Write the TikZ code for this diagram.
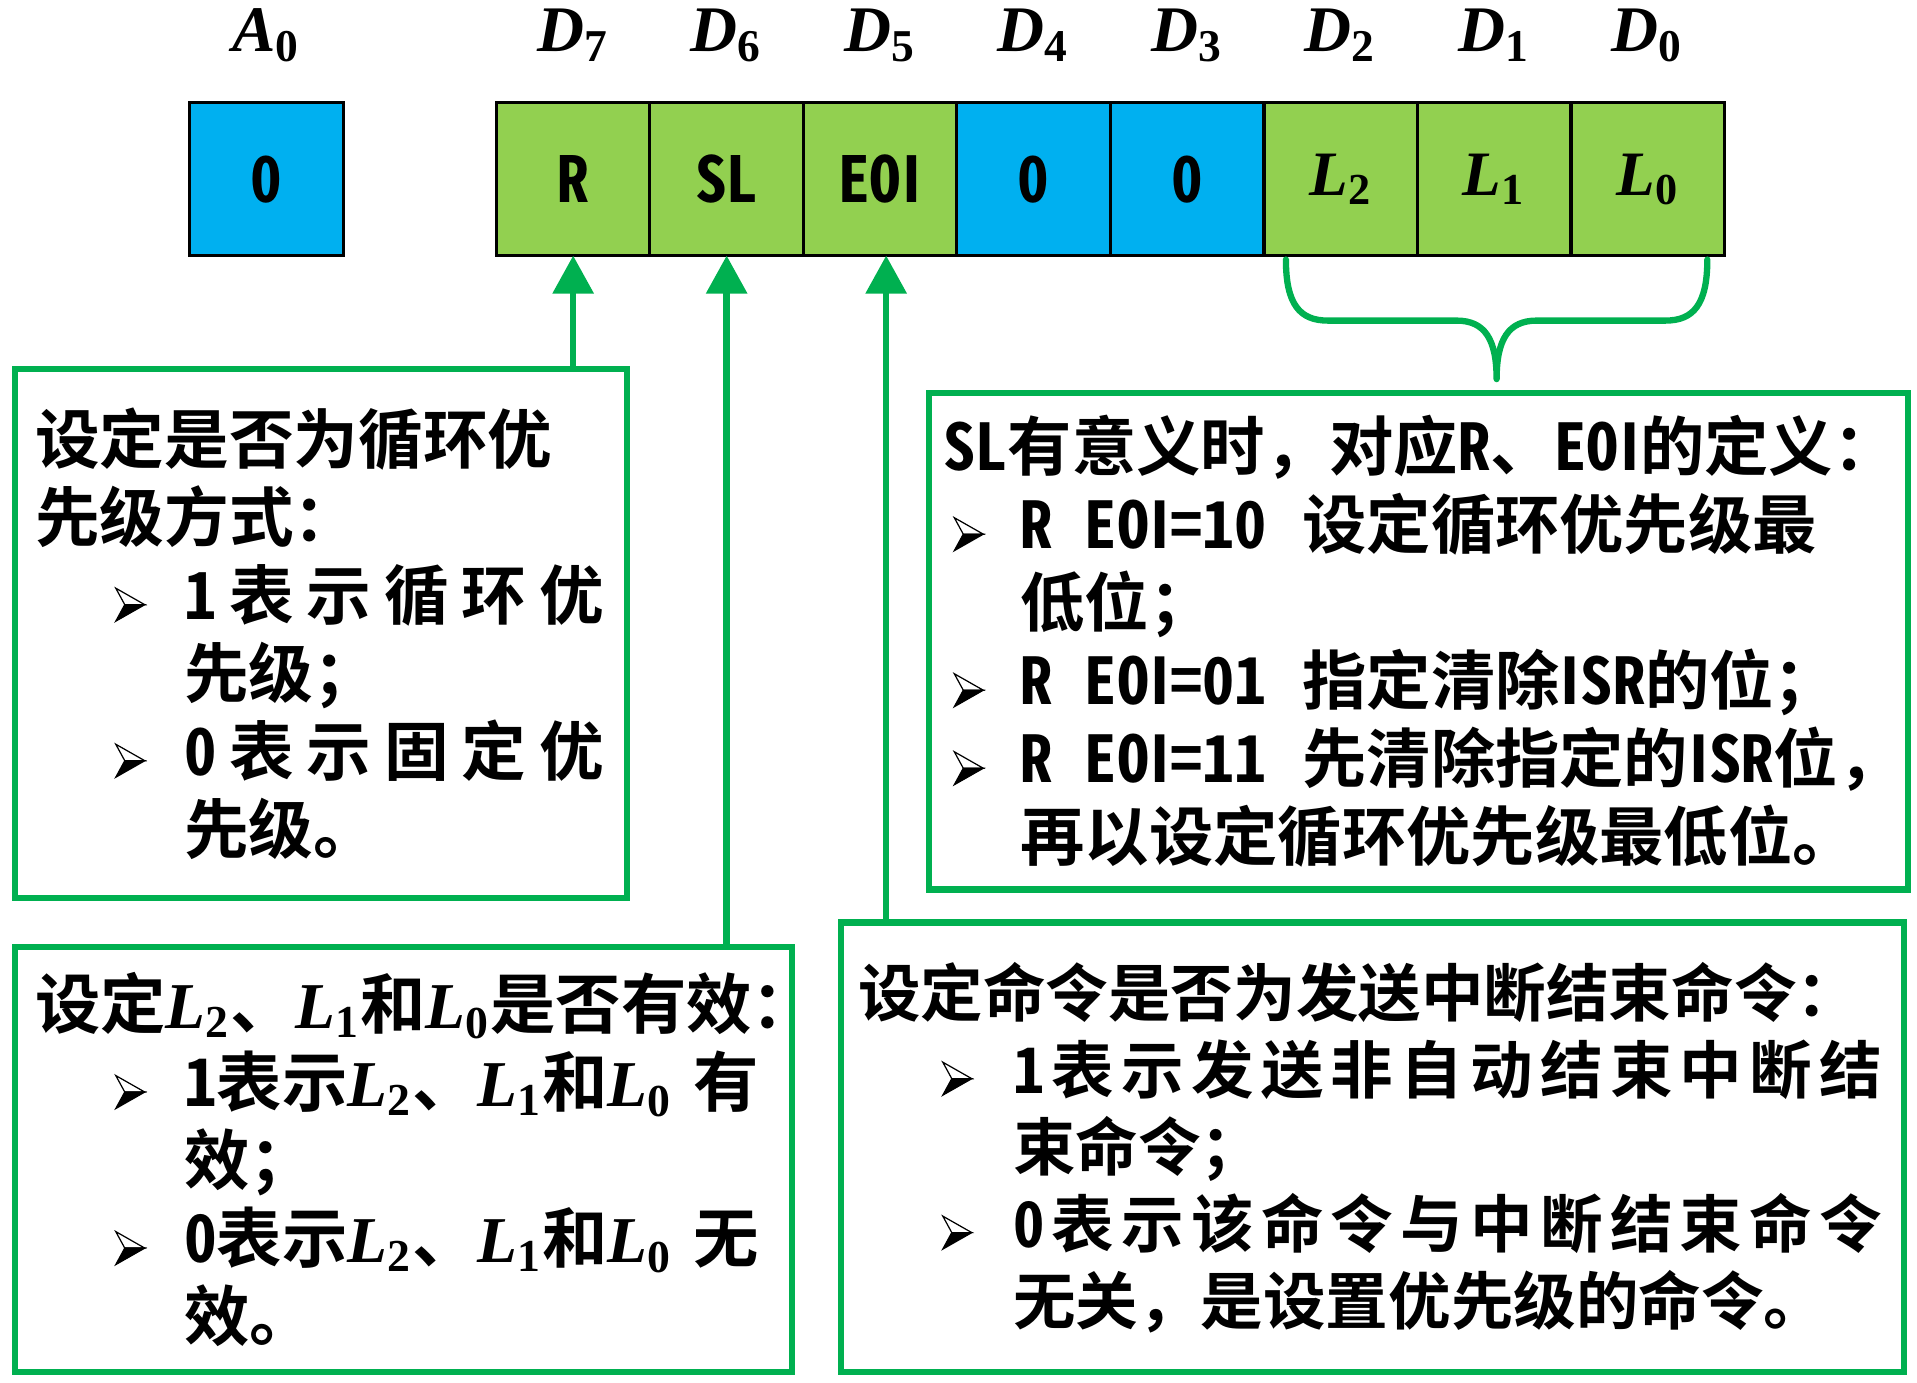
\documentclass[tikz,border=0pt]{standalone}
\usepackage[no-math]{fontspec}
\usetikzlibrary{arrows.meta, positioning}

\setmainfont{Noto Sans CJK SC}[BoldFont={Noto Sans CJK SC Bold}]
\newfontfamily\latfont{Noto Sans CJK SC}[BoldFont={Noto Sans CJK SC Bold}, RawFeature=+hwid]
\newfontfamily\symfont{Liberation Serif}

\definecolor{cellgreen}{HTML}{92D050}
\definecolor{cellblue}{HTML}{00B0F0}
\definecolor{linegreen}{HTML}{00B050}

\newcommand{\lat}[1]{{\latfont\bfseries #1}}
\newcommand{\barI}{{\rmfamily I}}
\newcommand{\sym}[2]{{\symfont\bfseries\itshape #1}\textsubscript{\symfont\bfseries #2}}
\newcommand{\cellfont}{\latfont\bfseries\fontsize{18}{20}\selectfont}
\newcommand{\bulletmark}{\tikz[baseline={(0,0.2mm)}, x=1mm, y=1mm, line width=0.35pt, line join=miter]{%
    \filldraw[draw=black, fill=white] (0,3.3) -- (2.9,1.65) -- (0.9,1.65) -- cycle;
    \filldraw[draw=black, fill=black] (0.9,1.65) -- (2.9,1.65) -- (0,0) -- cycle;}}
\newcommand{\bitem}[2]{\makebox[#2][l]{\hspace*{#1}\bulletmark}}
\def\sprnext#1{\ifx#1\relax\else\hfill#1\expandafter\sprnext\fi}
\newcommand{\spreadline}[3]{\makebox[#1][s]{\lat{#2}\sprnext#3\relax}}

\begin{document}
\begin{tikzpicture}[
        node distance=0pt,
        cell/.style={draw=black, line width=0.9pt, outer sep=0pt, minimum width=1.535cm, minimum height=1.53cm, inner sep=0pt, font=\cellfont},
        gcell/.style={cell, fill=cellgreen},
        bcell/.style={cell, fill=cellblue},
        bitlabel/.style={anchor=base, inner sep=0pt, font=\fontsize{18.5}{20}\selectfont},
        notebox/.style={draw=linegreen, line width=1.8pt, anchor=north west, align=left, inner ysep=0pt},
        arr/.style={draw=linegreen, line width=1.8pt, -{Triangle[width=0.40cm,length=0.38cm]}},
        brace/.style={draw=linegreen, line width=1.8pt, line cap=round, line join=round}
    ]
        \useasboundingbox (0,0) rectangle (19.17,-13.83);

        % register cells
        \node[bcell] (a0) at (2.665,-1.791) {0};
        \node[gcell] (d7) at (5.7315,-1.791) {R};
        \node[gcell, right=0pt of d7] (d6) {SL};
        \node[gcell, right=0pt of d6] (d5) {EO\barI};
        \node[bcell, right=0pt of d5] (d4) {0};
        \node[bcell, right=0pt of d4] (d3) {0};
        \node[gcell, right=0pt of d3] (d2) {\sym{L}{2}};
        \node[gcell, right=0pt of d2] (d1) {\sym{L}{1}};
        \node[gcell, right=0pt of d1] (d0) {\sym{L}{0}};

        % bit names
        \node[bitlabel] (la0) at ([yshift=5.07mm]a0.north) {\sym{A}{0}};
        \node[bitlabel] (ld7) at ([yshift=5.07mm]d7.north) {\sym{D}{7}};
        \node[bitlabel] (ld6) at ([yshift=5.07mm]d6.north) {\sym{D}{6}};
        \node[bitlabel] (ld5) at ([yshift=5.07mm]d5.north) {\sym{D}{5}};
        \node[bitlabel] (ld4) at ([yshift=5.07mm]d4.north) {\sym{D}{4}};
        \node[bitlabel] (ld3) at ([yshift=5.07mm]d3.north) {\sym{D}{3}};
        \node[bitlabel] (ld2) at ([yshift=5.07mm]d2.north) {\sym{D}{2}};
        \node[bitlabel] (ld1) at ([yshift=5.07mm]d1.north) {\sym{D}{1}};
        \node[bitlabel] (ld0) at ([yshift=5.07mm]d0.north) {\sym{D}{0}};

        % explanation boxes
        \node[notebox, text width=5.715cm, minimum height=5.294cm, inner xsep=0.2cm,
              font=\bfseries\fontsize{18.4}{22.2}\selectfont] (rbox) at (0.12,-3.656)
            {设定是否为循环优\\
             先级方式：\\
             \bitem{0.80cm}{1.49cm}\spreadline{4.2cm}{1}{表示循环优}\\
             \hspace*{1.49cm}先级；\\
             \bitem{0.80cm}{1.49cm}\spreadline{4.2cm}{0}{表示固定优}\\
             \hspace*{1.49cm}先级。};
        \node[notebox, text width=7.366cm, minimum height=4.252cm, inner xsep=0.2cm,
              font=\bfseries\fontsize{18.6}{22.2}\selectfont] (slbox) at (0.12,-9.438)
            {设定\sym{L}{2}、\sym{L}{1}和\sym{L}{0}是否有效：\\
             \bitem{0.80cm}{1.49cm}\makebox[5.85cm][s]{\lat{1}表示\sym{L}{2}、\sym{L}{1}和\sym{L}{0} 有}\\
             \hspace*{1.49cm}效；\\
             \bitem{0.80cm}{1.49cm}\makebox[5.85cm][s]{\lat{0}表示\sym{L}{2}、\sym{L}{1}和\sym{L}{0} 无}\\
             \hspace*{1.49cm}效。};
        \node[notebox, text width=9.493cm, minimum height=4.964cm, inner xsep=0.15cm,
              font=\bfseries\fontsize{18.3}{22.2}\selectfont] (lbox) at (9.255,-3.90)
            {\lat{SL}有意义时，对应\lat{R}、\lat{EO\barI}的定义：\\
             \bitem{0.10cm}{0.77cm}\lat{R\nobreak\hspace{0.5em}EO\barI=10}\nobreak\hspace{0.55em}设定循环优先级最\\
             \hspace*{0.77cm}低位；\\
             \bitem{0.10cm}{0.77cm}\lat{R\nobreak\hspace{0.5em}EO\barI=01}\nobreak\hspace{0.55em}指定清除\barI\lat{SR}的位；\\
             \bitem{0.10cm}{0.77cm}\lat{R\nobreak\hspace{0.5em}EO\barI=11}\nobreak\hspace{0.55em}先清除指定的\barI\lat{SR}位，\\
             \hspace*{0.77cm}再以设定循环优先级最低位。};
        \node[notebox, text width=10.285cm, minimum height=4.496cm, inner xsep=0.175cm,
              font=\bfseries\fontsize{17.8}{21.9}\selectfont] (eoibox) at (8.375,-9.194)
            {设定命令是否为发送中断结束命令：\\
             \bitem{0.84cm}{1.55cm}\spreadline{8.69cm}{1}{表示发送非自动结束中断结}\\
             \hspace*{1.55cm}束命令；\\
             \bitem{0.84cm}{1.55cm}\spreadline{8.69cm}{0}{表示该命令与中断结束命令}\\
             \hspace*{1.55cm}无关，是设置优先级的命令。};

        % pointers to the bits
        \draw[arr] (rbox.north -| d7.south) -- (d7.south);
        \draw[arr] (slbox.north -| d6.south) -- (d6.south);
        \draw[arr] ([xshift=0.6mm]eoibox.north -| d5.south) -- ([xshift=0.6mm]d5.south);

        % brace over L2 L1 L0
        \coordinate (brl) at ([xshift=2.2mm, yshift=-0.4mm]d2.south west);
        \draw[brace] (brl) .. controls +(0,-0.45) and +(-0.28,0) .. ++(0.42,-0.61)
            -- ++(1.287,0) .. controls +(0.28,0) and +(0,0.40) .. ++(0.40,-0.585)
            .. controls +(0,0.40) and +(-0.28,0) .. ++(0.40,0.585)
            -- ++(1.287,0) .. controls +(0.28,0) and +(0,-0.45) .. ++(0.42,0.61);
    \end{tikzpicture}
\end{document}
